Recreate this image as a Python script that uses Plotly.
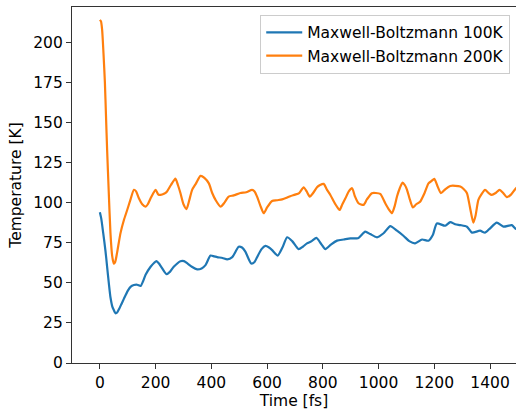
import plotly.graph_objects as go

# Time axis samples (fs) and temperatures (K)
t_100 = [0, 5, 12, 20, 26, 32, 38, 45, 50, 56, 62, 70, 78, 86, 100, 110, 122, 134, 146, 155,
         164, 182, 195, 203, 212, 220, 239, 252, 265, 289, 302, 315, 330, 349, 365, 379, 397,
         410, 421, 440, 457, 475, 498, 510, 522, 543, 555, 564, 580, 594, 607, 618, 638, 655,
         672, 690, 713, 728, 743, 760, 777, 795, 809, 830, 851, 875, 899, 928, 952, 970, 994,
         1018, 1042, 1066, 1090, 1110, 1131, 1156, 1179, 1195, 1209, 1239, 1257, 1275, 1293,
         1317, 1335, 1364, 1382, 1400, 1424, 1448, 1478, 1490, 1500]
T_100 = [94, 90, 81, 70, 60, 50, 41, 35, 33, 31, 31.5, 34, 37, 40, 45, 47.5, 48.6, 48.8, 48, 51,
         55, 60, 62.5, 63.5, 62, 60, 55.4, 57, 60, 63.5, 63.5, 62, 60, 58.4, 59, 61, 67,
         66.5, 66, 65.5, 64.6, 66, 72.5, 72, 69.4, 62, 63, 66, 71, 73, 72, 70.4, 67, 72,
         78.4, 76, 71, 72.5, 74.6, 76, 78, 74, 71, 74, 76.3, 77, 77.7, 78, 81.9, 80.4, 78.4,
         80.9, 85.4, 82.5, 79.2, 76, 74.6, 77, 76.3, 80, 87, 85.6, 87.9, 86.5, 86,
         85, 81.3, 82.5, 81.3, 84, 87.5, 85, 86, 84, 83]

t_200 = [0, 4, 8, 13, 18, 22, 26, 32, 38, 44, 50, 55, 62, 74, 86, 98, 110, 122, 130, 140, 152,
         164, 172, 182, 192, 200, 210, 218, 230, 241, 255, 271, 280, 289, 300, 311, 320, 331,
         345, 361, 375, 391, 403, 415, 433, 447, 462, 480, 504, 525, 546, 555, 564, 576, 588,
         600, 618, 635, 654, 670, 683, 700, 715, 731, 742, 753, 765, 779, 790, 803, 815, 827,
         845, 860, 870, 881, 893, 905, 915, 928, 946, 958, 976, 990, 1006, 1024, 1036, 1048,
         1058, 1066, 1076, 1086, 1094, 1102, 1112, 1123, 1135, 1149, 1165, 1179, 1190, 1200,
         1212, 1224, 1240, 1257, 1275, 1293, 1305, 1317, 1328, 1340, 1348, 1358, 1370, 1382,
         1395, 1406, 1420, 1434, 1447, 1460, 1475, 1490, 1500]
T_200 = [214, 213, 208, 193, 175, 154, 133, 106, 81, 67, 62, 63, 69, 81, 89, 95.4, 102, 108, 107,
         102.7, 99, 97.5, 99, 102.7, 106, 108, 105, 104.8, 105.5, 107, 111, 115, 111, 106, 99,
         96, 101, 108, 112, 116.7, 115.5, 112, 106, 101.7, 97.5, 100, 103.8, 104.5, 106, 106.5,
         108, 107, 103.8, 98, 93.4, 97, 101, 101.5, 102, 103, 104, 105, 106, 109.6, 107, 103.8,
         106, 109.6, 111, 111.7, 108, 104.8, 99, 95.4, 99, 102.7, 107, 109, 104, 99.6, 98.6,
         102, 105.9, 106, 105.4, 99.6, 96, 93.4, 98, 103.8, 109, 112.5, 111, 108, 102, 97, 99,
         100.6, 106, 112, 113.5, 114.8, 110, 105.9, 108.5, 110.4, 110.5, 110, 108.5, 105.9, 97,
         87.5, 92, 101.7, 105.5, 108, 106, 104.8, 106, 108, 106, 103.4, 105, 108.4, 110]

series_names = ["Maxwell-Boltzmann 100K", "Maxwell-Boltzmann 200K"]
x_ticks = [0, 200, 400, 600, 800, 1000, 1200, 1400]
y_ticks = [0, 25, 50, 75, 100, 125, 150, 175, 200]

FONT = "DejaVu Sans"
FS = 15.5

fig = go.Figure()
fig.add_trace(go.Scatter(x=t_100, y=T_100, mode="lines", name=series_names[0],
                         line=dict(color="#1f77b4", width=2.2, shape="spline", smoothing=0.6)))
fig.add_trace(go.Scatter(x=t_200, y=T_200, mode="lines", name=series_names[1],
                         line=dict(color="#ff7f0e", width=2.2, shape="spline", smoothing=0.6)))

axis_common = dict(
    showgrid=False, zeroline=False, showline=True, linecolor="#333333", linewidth=1.3,
    ticks="outside", ticklen=5, tickwidth=1.1, tickcolor="#333333",
    tickfont=dict(family=FONT, size=FS, color="#000000"),
)

fig.update_layout(
    width=516, height=411,
    margin=dict(l=72, r=0, t=7, b=48),
    paper_bgcolor="white", plot_bgcolor="white",
    font=dict(family=FONT, size=FS, color="#000000"),
    xaxis=dict(range=[-100, 1493], tickvals=x_ticks, mirror=True,
               title=dict(text="Time [fs]", standoff=0, font=dict(family=FONT, size=FS)),
               **axis_common),
    yaxis=dict(range=[0, 222], tickvals=y_ticks,
               title=dict(text="Temperature [K]", standoff=7, font=dict(family=FONT, size=FS)),
               **axis_common),
    legend=dict(x=0.987, y=0.978, xanchor="right", yanchor="top",
                bgcolor="rgba(255,255,255,0.8)", bordercolor="#cccccc", borderwidth=1,
                font=dict(family=FONT, size=FS), itemwidth=36, tracegroupgap=0),
    showlegend=True,
)

fig.write_html("out.html",
               config={"displayModeBar": False},
               post_script="document.body.style.margin='0';document.body.style.overflow='hidden';")
